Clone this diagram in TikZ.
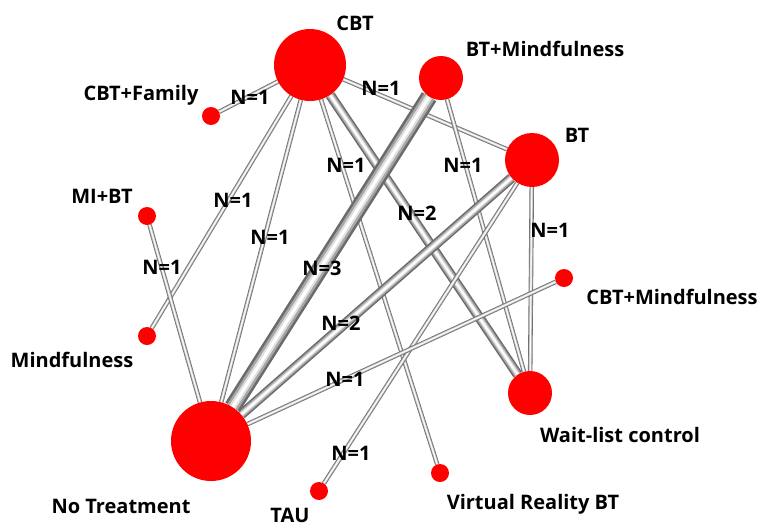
\documentclass[tikz,border=0pt]{standalone}
\usepackage{fontspec}
\setmainfont{Open Sans}
\usetikzlibrary{backgrounds}

\begin{document}
\begin{tikzpicture}[x=1pt, y=-1pt,
    arm/.style={circle, fill=red, inner sep=0pt, minimum size=#1},
    armname/.style={anchor=base, inner sep=0pt, font=\fontsize{20}{22}\selectfont\bfseries},
    nlabel/.style={font=\fontsize{20}{22}\selectfont\bfseries, inner sep=0pt},
    tube/.style={draw=black!58, line width=#1,
        postaction={draw=black!35, line width=0.7*#1},
        postaction={draw=black!12, line width=0.42*#1},
        postaction={draw=white, line width=0.18*#1}}]
    \useasboundingbox (0,0) rectangle (764,528);

    % treatment arms
    \node[arm=72pt] (cbt)  at (310,65)  {};
    \node[arm=44pt] (btm)  at (441,78)  {};
    \node[arm=54pt] (bt)   at (532,160) {};
    \node[arm=18pt] (fam)  at (211,116) {};
    \node[arm=18pt] (mibt) at (147,216) {};
    \node[arm=18pt] (mind) at (147,336) {};
    \node[arm=80pt] (none) at (211,441) {};
    \node[arm=18pt] (tau)  at (319,491) {};
    \node[arm=18pt] (vr)   at (440,473) {};
    \node[arm=44pt] (wait) at (530,393) {};
    \node[arm=18pt] (cbtm) at (564,278) {};

    % arm names
    \node[armname] (tcbt)  at (355,30)  {CBT};
    \node[armname] (tbtm)  at (545,56)  {BT+Mindfulness};
    \node[armname] (tbt)   at (577,142) {BT};
    \node[armname] (tfam)  at (141,100) {CBT+Family};
    \node[armname] (tmibt) at (102,203) {MI+BT};
    \node[armname] (tmind) at (72,367)  {Mindfulness};
    \node[armname] (tnone) at (121,513) {No Treatment};
    \node[armname] (ttau)  at (290,522) {TAU};
    \node[armname] (tvr)   at (533,509) {Virtual Reality BT};
    \node[armname] (twait) at (620,442) {Wait-list control};
    \node[armname] (tcbtm) at (672,304) {CBT+Mindfulness};

    % comparisons, width by number of trials
    \begin{scope}[on background layer]
        \draw[tube=4.5pt] (cbt) -- (fam);
        \draw[tube=4.5pt] (cbt) -- (bt);
        \draw[tube=4.5pt] (cbt) -- (mind);
        \draw[tube=4.5pt] (cbt) -- (none);
        \draw[tube=4.5pt] (cbt) -- (vr);
        \draw[tube=10pt]  (cbt) -- (wait);
        \draw[tube=4.5pt] (btm) -- (wait);
        \draw[tube=4.5pt] (bt) -- (wait);
        \draw[tube=4.5pt] (bt) -- (tau);
        \draw[tube=4.5pt] (mibt) -- (none);
        \draw[tube=4.5pt] (cbtm) -- (none);
        \draw[tube=10pt]  (bt) -- (none);
        \draw[tube=17pt]  (btm) -- (none);
    \end{scope}

    % trial counts
    \node[nlabel] (n1)  at (250,97)  {N=1};
    \node[nlabel] (n2)  at (381,88)  {N=1};
    \node[nlabel] (n3)  at (233,200) {N=1};
    \node[nlabel] (n4)  at (270,237) {N=1};
    \node[nlabel] (n5)  at (346,165) {N=1};
    \node[nlabel] (n6)  at (417,213) {N=2};
    \node[nlabel] (n7)  at (322,268) {N=3};
    \node[nlabel] (n8)  at (463,165) {N=1};
    \node[nlabel] (n9)  at (550,230) {N=1};
    \node[nlabel] (n10) at (341,323) {N=2};
    \node[nlabel] (n11) at (345,379) {N=1};
    \node[nlabel] (n12) at (351,453) {N=1};
    \node[nlabel] (n13) at (162,267) {N=1};
\end{tikzpicture}
\end{document}
